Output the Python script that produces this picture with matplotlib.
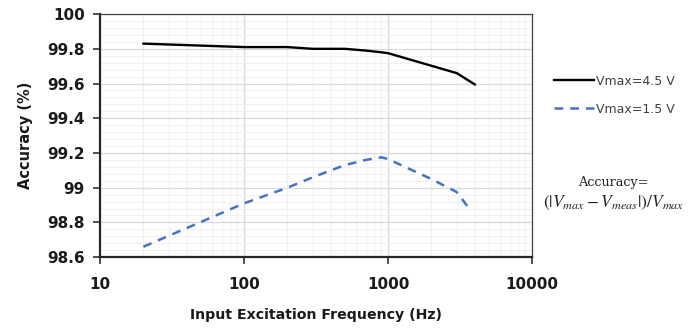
import numpy as np
import matplotlib.pyplot as plt
from matplotlib.ticker import LogLocator, MultipleLocator, NullFormatter

# data
freq_45 = [20, 100, 200, 300, 500, 700, 900, 1000, 3000, 4000]
acc_45 = [99.83, 99.81, 99.81, 99.80, 99.80, 99.79, 99.78, 99.775, 99.66, 99.595]
freq_15 = [20, 100, 200, 300, 500, 700, 900, 1000, 2000, 3000, 3700]
acc_15 = [98.66, 98.91, 99.00, 99.06, 99.13, 99.16, 99.175, 99.165, 99.05, 98.975, 98.875]
y_ticks = [98.6, 98.8, 99, 99.2, 99.4, 99.6, 99.8, 100]
y_labels = ['98.6', '98.8', '99', '99.2', '99.4', '99.6', '99.8', '100']
x_ticks = [10, 100, 1000, 10000]

plt.rcParams['mathtext.fontset'] = 'stix'

fig = plt.figure(figsize=(7, 3.28), dpi=100)
ax = fig.add_axes([0.143, 0.216, 0.617, 0.741])

ax.plot(freq_45, acc_45, color='black', lw=1.7, label='Vmax=4.5 V', zorder=3)
ax.plot(freq_15, acc_15, color='#4472C4', lw=1.8, ls=(0, (3.5, 2.8)), label='Vmax=1.5 V', zorder=3)

ax.set_xscale('log')
ax.set_xlim(10, 10000)
ax.set_ylim(98.6, 100)
ax.set_xticks(x_ticks)
ax.set_xticklabels([str(t) for t in x_ticks])
ax.xaxis.set_minor_locator(LogLocator(base=10, subs=np.arange(2, 10)))
ax.xaxis.set_minor_formatter(NullFormatter())
ax.set_yticks(y_ticks)
ax.set_yticklabels(y_labels)
ax.yaxis.set_minor_locator(MultipleLocator(0.04))

ax.grid(which='major', color='#d9d9d9', lw=0.9)
ax.grid(which='minor', color='#f0f0f0', lw=0.8)
ax.set_axisbelow(True)

ax.tick_params(which='major', length=5, width=1.2, color='#333333', labelsize=11, pad=6)
ax.tick_params(which='minor', length=0)
ax.tick_params(axis='x', pad=9)
for lab in ax.get_xticklabels() + ax.get_yticklabels():
    lab.set_fontweight('bold')
    lab.set_color('#1a1a1a')

for s in ['left', 'bottom']:
    ax.spines[s].set_linewidth(1.6)
    ax.spines[s].set_color('#262626')
for s in ['top', 'right']:
    ax.spines[s].set_linewidth(0.9)
    ax.spines[s].set_color('#404040')

ax.set_xlabel('Input Excitation Frequency (Hz)', fontsize=10.2, fontweight='bold', labelpad=12, color='#1a1a1a')
ax.set_ylabel('Accuracy (%)', fontsize=10.5, fontweight='bold', labelpad=10, color='#1a1a1a')

leg = fig.legend(loc='center left', bbox_to_anchor=(0.775, 0.71), frameon=False,
                 fontsize=9, handlelength=3.2, handletextpad=0.2, labelspacing=1.2)
for t in leg.get_texts():
    t.set_color('#404040')

fig.text(0.876, 0.445, 'Accuracy=', ha='center', va='center', fontsize=9.2, family='DejaVu Serif', color='#222222')
fig.text(0.876, 0.38, r'$(|V_{max} - V_{meas}|)/V_{max}$', ha='center', va='center', fontsize=12.5, color='#222222')

fig.savefig('out.png', dpi=100)
